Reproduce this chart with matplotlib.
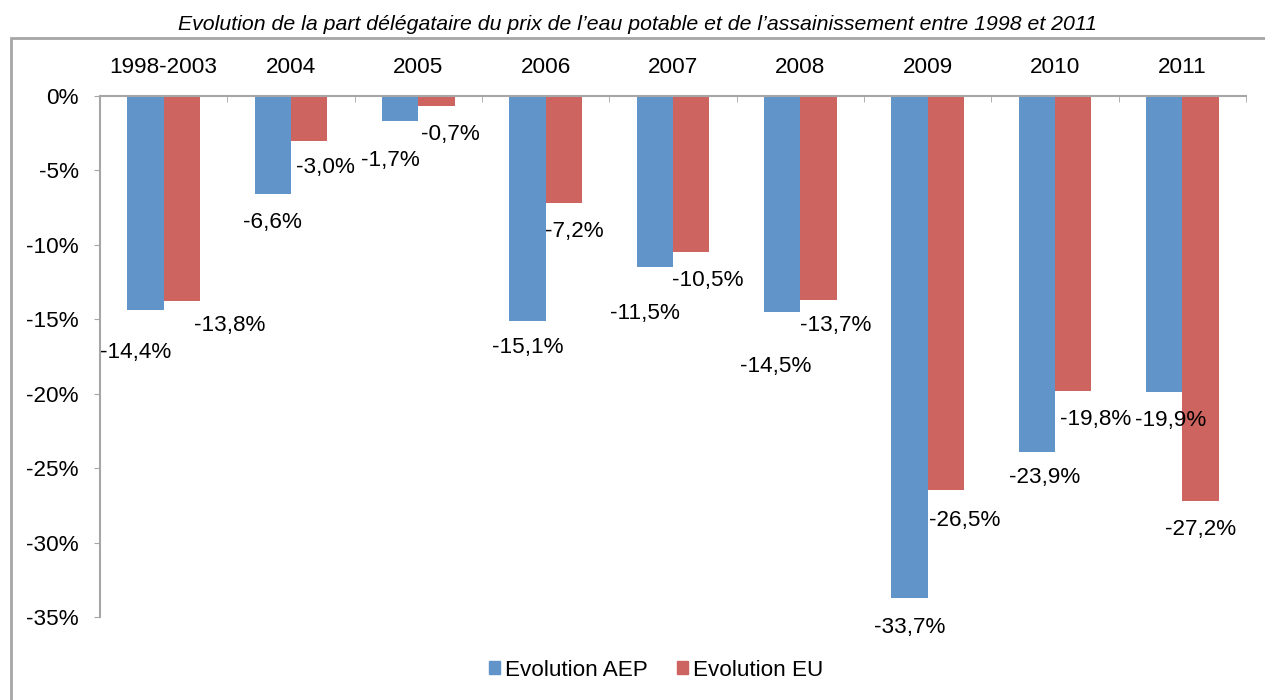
import numpy as np
import matplotlib
matplotlib.use("Agg")
import matplotlib.pyplot as plt
from matplotlib.patches import Rectangle, Patch

plt.rcParams['font.family'] = ['Liberation Sans', 'DejaVu Sans']

# Données
categories = ["1998-2003", "2004", "2005", "2006", "2007", "2008", "2009", "2010", "2011"]
evol_aep = [-14.4, -6.6, -1.7, -15.1, -11.5, -14.5, -33.7, -23.9, -19.9]
evol_eu = [-13.8, -3.0, -0.7, -7.2, -10.5, -13.7, -26.5, -19.8, -27.2]

# décalage des étiquettes (pixels) par rapport au bout de chaque barre
off_aep = [(-10, -42), (0, -28), (-10, -39), (0, -27), (-10, -46), (-7, -55), (0, -30), (8, -26), (6, -28)]
off_eu = [(48, -24), (16, -27), (14, -28), (11, -28), (17, -28), (17, -26), (19, -30), (22, -29), (0, -29)]

blue = '#6195c9'
red = '#cd645f'
grey = '#a6a6a6'
fs = 16.2

fig = plt.figure(figsize=(12.65, 7.0), dpi=100)
ax = fig.add_axes([100 / 1265, 1 - 617 / 700, 1146 / 1265, 521 / 700])

x = np.arange(len(categories))
w = 0.285
ax.bar(x - w / 2, evol_aep, w, color=blue, label="Evolution AEP")
ax.bar(x + w / 2, evol_eu, w, color=red, label="Evolution EU")

def fmt(v):
    return f"{v:.1f}%".replace(".", ",")

for i in range(len(categories)):
    ax.annotate(fmt(evol_aep[i]), (x[i] - w / 2, evol_aep[i]), xytext=off_aep[i],
                textcoords='offset pixels', ha='center', va='center', fontsize=fs)
    ax.annotate(fmt(evol_eu[i]), (x[i] + w / 2, evol_eu[i]), xytext=off_eu[i],
                textcoords='offset pixels', ha='center', va='center', fontsize=fs)

ax.set_xlim(-0.5, len(categories) - 0.5)
ax.set_ylim(-35, 0)
ax.set_yticks(np.arange(-35, 1, 5))
ax.set_yticklabels([f"{t}%" for t in range(-35, 1, 5)], fontsize=fs)
ax.tick_params(axis='y', direction='out', length=4.3, color=grey, pad=11)

ax.xaxis.tick_top()
ax.set_xticks(x)
ax.set_xticklabels(categories, fontsize=fs)
ax.set_xticks(np.arange(-0.5, len(categories), 1), minor=True)
ax.tick_params(axis='x', which='major', length=0, pad=13)
ax.tick_params(axis='x', which='minor', direction='in', length=4.3, color=grey)

for s in ['right', 'bottom']:
    ax.spines[s].set_visible(False)
for s in ['left', 'top']:
    ax.spines[s].set_color(grey)
    ax.spines[s].set_linewidth(1.5)

# cadre du graphique
fig.patches.append(Rectangle((11 / 1265, -0.05), 1.1, 0.946 + 0.05, transform=fig.transFigure,
                             fill=False, edgecolor=grey, linewidth=2))

fig.text(638 / 1265, 1 - 25 / 700,
         "Evolution de la part délégataire du prix de l\u2019eau potable et de l\u2019assainissement entre 1998 et 2011",
         ha='center', va='center', fontsize=15.3, style='italic')

handles = [Patch(color=blue), Patch(color=red)]
fig.legend(handles, ["Evolution AEP", "Evolution EU"], loc='center', ncol=2,
           bbox_to_anchor=(656 / 1265, 1 - 670 / 700), frameon=False, fontsize=fs,
           handlelength=0.5, handleheight=0.5, handletextpad=0.2, columnspacing=1.3)

fig.savefig("out.png", dpi=100)
